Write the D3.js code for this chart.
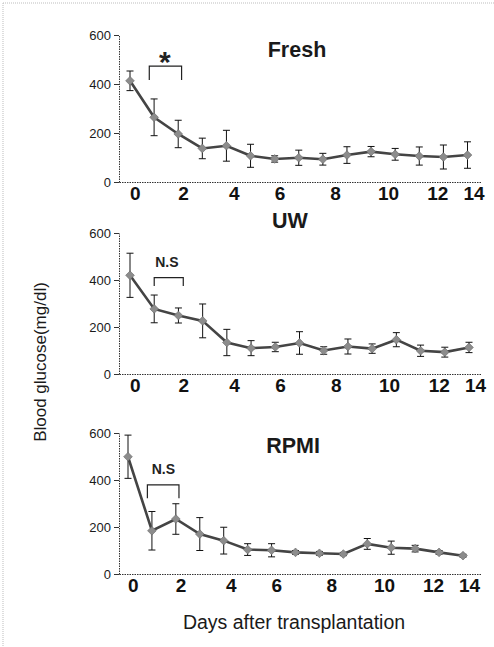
<!DOCTYPE html>
<html>
<head>
<meta charset="utf-8">
<script src="https://cdn.jsdelivr.net/npm/d3@7/dist/d3.min.js"></script>
<style>
  html, body { margin: 0; padding: 0; background: #fff; }
  svg { display: block; font-family: "Liberation Sans", Arial, sans-serif; }
</style>
</head>
<body>
<svg id="chart" width="494" height="647"></svg>
<script>
// ---------------- data ----------------
const days = [0, 1, 2, 3, 4, 5, 6, 7, 8, 9, 10, 11, 12, 13, 14];

const freshMean = [413, 264, 196, 137, 148, 107, 94, 99, 93, 110, 124, 113, 106, 102, 110];
const freshErr  = [40, 75, 56, 42, 63, 47, 13, 31, 24, 34, 21, 24, 37, 49, 54];

const uwMean = [420, 277, 249, 226, 134, 110, 115, 132, 100, 117, 108, 146, 99, 93, 113];
const uwErr  = [94, 59, 32, 72, 56, 32, 20, 48, 16, 32, 20, 30, 24, 21, 22];

const rpmiMean = [499, 184, 234, 170, 142, 104, 101, 92, 88, 85, 128, 112, 108, 92, 78];
const rpmiErr  = [92, 82, 65, 70, 57, 25, 28, 8, 8, 7, 23, 28, 14, 8, 6];

const panelTitles = ["Fresh", "UW", "RPMI"];
const yTicks = [0, 200, 400, 600];
const xTickLabels = ["0", "2", "4", "6", "8", "10", "12", "14"];
const xTickDays = [0.2, 2.2, 4.3, 6.2, 8.5, 10.7, 12.75, 14.25];

// significance brackets: [fromDay, toDay, topValue, footValue]
const sigBrackets = [[0.8, 2.14, 473, 416], [1.0, 2.2, 410, 374], [0.81, 2.13, 379, 322]];
const sigLabels = ["*", "N.S", "N.S"];
const sigLabelPos = [[1.45, 514], [1.52, 457], [1.48, 426]]; // [day, value]

const yAxisTitle = "Blood glucose(mg/dl)";
const xAxisTitle = "Days after transplantation";

// ---------------- layout ----------------
const svg = d3.select("#chart");
const axisLeftX = 119, axisRightX = 481;

const panels = [
  { mean: freshMean, err: freshErr, y600: 35,  y0: 182, x0: 130, x14: 467.5, titleX: 297, titleY: 57 },
  { mean: uwMean,    err: uwErr,    y600: 233, y0: 374, x0: 130, x14: 469,   titleX: 290, titleY: 228 },
  { mean: rpmiMean,  err: rpmiErr,  y600: 433, y0: 574, x0: 128, x14: 463,   titleX: 293, titleY: 453 }
];

// faint scan border
svg.append("line").attr("x1", 3).attr("x2", 494).attr("y1", 3).attr("y2", 3)
  .attr("stroke", "#bdbdbd").attr("stroke-dasharray", "1,1");
svg.append("line").attr("x1", 3).attr("x2", 3).attr("y1", 3).attr("y2", 647)
  .attr("stroke", "#bdbdbd").attr("stroke-dasharray", "1,1");

panels.forEach((p, pi) => {
  const perDay = (p.x14 - p.x0) / 14;
  const x = d3.scaleLinear()
    .domain([(axisLeftX - p.x0) / perDay, 14 + (axisRightX - p.x14) / perDay])
    .range([axisLeftX, axisRightX]);
  const y = d3.scaleLinear().domain([0, 600]).range([p.y0, p.y600]);

  const g = svg.append("g");

  // y axis
  const ya = g.append("g").attr("transform", `translate(${axisLeftX},0)`)
    .call(d3.axisLeft(y).tickValues(yTicks).tickSize(5).tickSizeOuter(0).tickPadding(3));
  ya.select(".domain").attr("stroke", "#333").attr("stroke-dasharray", "1.5,1");
  ya.selectAll(".tick line").attr("stroke", "#333");
  ya.selectAll(".tick text").attr("font-size", 13).attr("fill", "#1a1a1a")
    .attr("font-family", "'Liberation Sans', Arial, sans-serif");

  // x axis
  const xa = g.append("g").attr("transform", `translate(0,${p.y0})`)
    .call(d3.axisBottom(x).tickValues(xTickDays).tickFormat((d, i) => xTickLabels[i])
      .tickSize(0).tickSizeOuter(0).tickPadding(5));
  xa.select(".domain").attr("stroke", "#333").attr("stroke-dasharray", "1.5,1");
  xa.selectAll(".tick text").attr("font-size", 19).attr("font-weight", "bold").attr("fill", "#111")
    .attr("font-family", "'Liberation Sans', Arial, sans-serif");

  // title
  g.append("text").attr("x", p.titleX).attr("y", p.titleY).attr("text-anchor", "middle")
    .attr("font-size", 21.5).attr("font-weight", "bold").attr("fill", "#1a1a1a")
    .text(panelTitles[pi]);

  // error bars
  const eb = g.append("g").attr("stroke", "#111").attr("stroke-width", 1);
  days.forEach((d, i) => {
    const cx = x(d), top = y(p.mean[i] + p.err[i]), bot = y(p.mean[i] - p.err[i]);
    eb.append("line").attr("x1", cx).attr("x2", cx).attr("y1", top).attr("y2", bot);
    eb.append("line").attr("x1", cx - 3.5).attr("x2", cx + 3.5).attr("y1", top).attr("y2", top);
    eb.append("line").attr("x1", cx - 3.5).attr("x2", cx + 3.5).attr("y1", bot).attr("y2", bot);
  });

  // line
  g.append("path").datum(days)
    .attr("d", d3.line().x(d => x(d)).y((d, i) => y(p.mean[i])))
    .attr("fill", "none").attr("stroke", "#444").attr("stroke-width", 2.6);

  // markers (diamonds)
  g.append("g").selectAll("path").data(days).join("path")
    .attr("d", d3.symbol(d3.symbolSquare, 38)())
    .attr("transform", (d, i) => `translate(${x(d)},${y(p.mean[i])}) rotate(45)`)
    .attr("fill", "#8c8c8c").attr("stroke", "#6a6a6a").attr("stroke-width", 0.6);

  // significance bracket
  const [b0, b1, bt, bf] = sigBrackets[pi];
  g.append("path")
    .attr("d", `M${x(b0)},${y(bf)}V${y(bt)}H${x(b1)}V${y(bf)}`)
    .attr("fill", "none").attr("stroke", "#222").attr("stroke-width", 1.2);
  const [lx, lv] = sigLabelPos[pi];
  if (sigLabels[pi] === "*") {
    g.append("text").attr("x", x(lx)).attr("y", y(lv) + 16).attr("text-anchor", "middle")
      .attr("font-size", 30).attr("font-weight", "bold").attr("fill", "#222").text(sigLabels[pi]);
  } else {
    g.append("text").attr("x", x(lx)).attr("y", y(lv)).attr("text-anchor", "middle")
      .attr("font-size", 14).attr("font-weight", "bold").attr("fill", "#222").text(sigLabels[pi]);
  }
});

// axis titles
svg.append("text").attr("transform", "translate(46,362) rotate(-90)")
  .attr("text-anchor", "middle").attr("font-size", 17).attr("fill", "#1a1a1a").text(yAxisTitle);
svg.append("text").attr("x", 294).attr("y", 629).attr("text-anchor", "middle")
  .attr("font-size", 19.5).attr("fill", "#1a1a1a").text(xAxisTitle);
</script>
</body>
</html>
